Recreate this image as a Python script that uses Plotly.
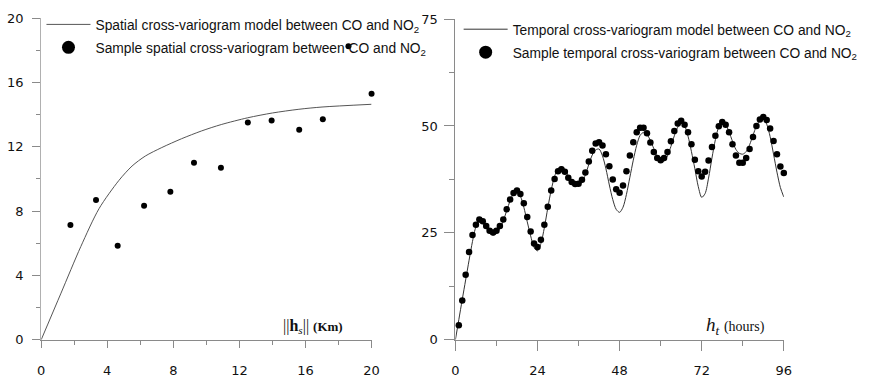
import plotly.graph_objects as go

# ---- spatial cross-variogram (CO vs NO2) ----
spatial_lag = [1.77, 3.32, 4.63, 6.23, 7.82, 9.25, 10.88, 12.51, 13.95, 15.62, 17.05, 18.6, 20.0]
spatial_sample = [7.14, 8.69, 5.85, 8.33, 9.21, 11.0, 10.7, 13.51, 13.63, 13.05, 13.71, 18.24, 15.3]
spatial_model_lag = [0, 1.2, 2.4, 3.5, 4.7, 5.5, 6.3, 7.3, 8.5, 9.7, 10.9, 12.5, 14.0, 15.6, 17.0, 20]
spatial_model = [0, 2.9, 5.8, 8.15, 9.9, 10.8, 11.42, 11.95, 12.5, 12.98, 13.38, 13.8, 14.1, 14.33, 14.47, 14.64]

# ---- temporal cross-variogram (CO vs NO2), hourly lags ----
temporal_lag = list(range(1, 97))
temporal_sample = [
    3.4, 9.2, 15.2, 20.5, 24.5, 26.9, 28.1, 27.7, 26.6, 25.5,
    25.1, 25.5, 26.6, 28.1, 30.5, 32.8, 34.3, 34.9, 34.1, 31.9,
    28.7, 25.3, 22.5, 21.7, 23.4, 26.9, 31.1, 34.9, 37.6, 39.4,
    39.9, 39.3, 37.9, 36.9, 36.4, 36.5, 37.4, 39.1, 41.7, 44.2,
    45.9, 46.2, 45.4, 43.4, 40.6, 37.5, 35.2, 34.4, 36.1, 39.4,
    43.1, 46.2, 48.5, 49.6, 49.6, 48.3, 46.1, 43.9, 42.5, 42.0,
    42.5, 43.9, 46.4, 48.8, 50.6, 51.2, 50.3, 48.5, 45.7, 42.1,
    39.4, 38.2, 39.3, 41.9, 45.1, 47.7, 49.9, 50.9, 50.3, 48.5,
    45.7, 43.1, 41.4, 41.4, 42.5, 44.6, 47.4, 50.0, 51.5, 52.1,
    51.4, 49.4, 46.5, 43.4, 40.5, 39.0,
]
temporal_model_lag = list(range(0, 97))
temporal_model = [
    0.0, 4.7, 9.4, 14.0, 18.6, 23.0, 26.4, 27.6, 27.3, 26.2,
    25.0, 24.5, 24.8, 26.0, 27.8, 30.2, 32.5, 34.2, 34.7, 33.6,
    31.0, 27.6, 24.3, 21.6, 20.8, 22.5, 26.2, 30.8, 35.0, 38.2,
    40.0, 40.5, 39.8, 38.3, 36.9, 36.1, 36.0, 36.8, 38.6, 41.0,
    43.2, 44.4, 44.6, 43.0, 40.0, 36.2, 32.8, 30.5, 29.8, 31.0,
    34.0, 38.0, 42.0, 45.5, 47.8, 48.5, 48.0, 46.6, 44.7, 42.8,
    41.7, 41.8, 43.0, 45.2, 47.7, 49.7, 50.6, 50.0, 47.6, 44.0,
    40.0, 35.8, 33.3, 34.2, 37.8, 42.5, 46.8, 49.8, 50.8, 50.3,
    48.6, 46.4, 44.5, 43.6, 43.4, 44.0, 45.6, 47.8, 50.0, 51.3,
    51.6, 50.4, 47.5, 43.4, 39.2, 35.6, 33.4,
]

W, H = 871, 385
AXIS_GREY = "#8a8a8a"
TICK_FONT = dict(family="DejaVu Sans", size=13, color="#111")
LEGEND_FONT = dict(family="Liberation Sans, Arial", size=13.8, color="#111")
TITLE_FONT = dict(family="Liberation Serif, Times New Roman", size=16, color="#111")

SPATIAL_LINE = "Spatial cross-variogram model between CO and NO<sub>2</sub>"
SPATIAL_DOTS = "Sample spatial cross-variogram between CO and NO<sub>2</sub>"
TEMPORAL_LINE = "Temporal cross-variogram model between CO and NO<sub>2</sub>"
TEMPORAL_DOTS = "Sample temporal cross-variogram between CO and NO<sub>2</sub>"

fig = go.Figure()

# left panel: model curve and sample points
fig.add_trace(go.Scatter(
    x=spatial_model_lag, y=spatial_model, mode="lines",
    line=dict(color="#555", width=1, shape="spline", smoothing=0.8),
    name=SPATIAL_LINE, legend="legend", legendgroup="s1", xaxis="x", yaxis="y",
))
fig.add_trace(go.Scatter(
    x=spatial_lag, y=spatial_sample, mode="markers",
    marker=dict(color="black", size=6), cliponaxis=False,
    name=SPATIAL_DOTS, showlegend=False, xaxis="x", yaxis="y",
))
# larger legend key for the sample points (no data of its own)
fig.add_trace(go.Scatter(
    x=[None], y=[None], mode="markers", marker=dict(color="black", size=13),
    name=SPATIAL_DOTS, legend="legend", legendgroup="s2", xaxis="x", yaxis="y",
))

# right panel: model curve and sample points
fig.add_trace(go.Scatter(
    x=temporal_model_lag, y=temporal_model, mode="lines",
    line=dict(color="#333", width=1, shape="spline", smoothing=0.8),
    name=TEMPORAL_LINE, legend="legend2", legendgroup="t1", xaxis="x2", yaxis="y2",
))
fig.add_trace(go.Scatter(
    x=temporal_lag, y=temporal_sample, mode="markers",
    marker=dict(color="black", size=6.5), cliponaxis=False,
    name=TEMPORAL_DOTS, showlegend=False, xaxis="x2", yaxis="y2",
))
fig.add_trace(go.Scatter(
    x=[None], y=[None], mode="markers", marker=dict(color="black", size=13),
    name=TEMPORAL_DOTS, legend="legend2", legendgroup="t2", xaxis="x2", yaxis="y2",
))


def px_x(p):
    return p / W


def px_y(p):
    return 1 - p / H


common_axis = dict(
    showline=True, linecolor=AXIS_GREY, linewidth=1,
    showgrid=False, zeroline=False,
    ticks="outside", tickcolor=AXIS_GREY, tickwidth=1,
    tickfont=TICK_FONT,
)

legend_common = dict(
    xanchor="left", yanchor="top", bgcolor="rgba(0,0,0,0)", font=LEGEND_FONT,
    itemsizing="trace", itemwidth=44, traceorder="grouped", tracegroupgap=2,
)

fig.update_layout(
    width=W, height=H,
    margin=dict(l=0, r=0, t=0, b=0),
    paper_bgcolor="white", plot_bgcolor="white",
    showlegend=True,
    xaxis=dict(common_axis, domain=[px_x(37.7), px_x(372.7)], range=[0, 20],
               tick0=0, dtick=4, ticklen=7, ticklabelstandoff=12,
               minor=dict(dtick=2, ticks="outside", ticklen=4, tickcolor=AXIS_GREY),
               anchor="y"),
    yaxis=dict(common_axis, domain=[px_y(346.3), px_y(11.5)], range=[0, 20],
               tick0=0, dtick=4, ticklen=8, ticklabelstandoff=6,
               minor=dict(dtick=2, ticks="outside", ticklen=4, tickcolor=AXIS_GREY),
               linecolor="#b0b0b0", anchor="x"),
    xaxis2=dict(common_axis, domain=[px_x(457.7), px_x(790.7)], range=[0, 96],
                tick0=0, dtick=24, ticklen=10, ticklabelstandoff=9,
                minor=dict(dtick=12, ticks="outside", ticklen=5, tickcolor=AXIS_GREY),
                anchor="y2"),
    yaxis2=dict(common_axis, domain=[px_y(346.3), px_y(12.5)], range=[0, 75],
                tick0=0, dtick=25, ticklen=10, ticklabelstandoff=4,
                minor=dict(dtick=12.5, ticks="outside", ticklen=5, tickcolor=AXIS_GREY),
                anchor="x2"),
    legend=dict(legend_common, x=px_x(38), y=px_y(2)),
    legend2=dict(legend_common, x=px_x(461), y=px_y(7)),
    annotations=[
        dict(xref="paper", yref="paper", x=px_x(313), y=px_y(332),
             xanchor="center", yanchor="middle", showarrow=False,
             text="||<b>h</b><sub><i>s</i></sub>|| <span style='font-size:13px'><b>(Km)</b></span>",
             font=TITLE_FONT),
        dict(xref="paper", yref="paper", x=px_x(742), y=px_y(332),
             xanchor="center", yanchor="middle", showarrow=False,
             text="<i>h</i><sub><i>t</i></sub> <span style='font-size:14px'>(hours)</span>",
             font=dict(TITLE_FONT, size=19)),
    ],
)

fig.write_html("out.html")
